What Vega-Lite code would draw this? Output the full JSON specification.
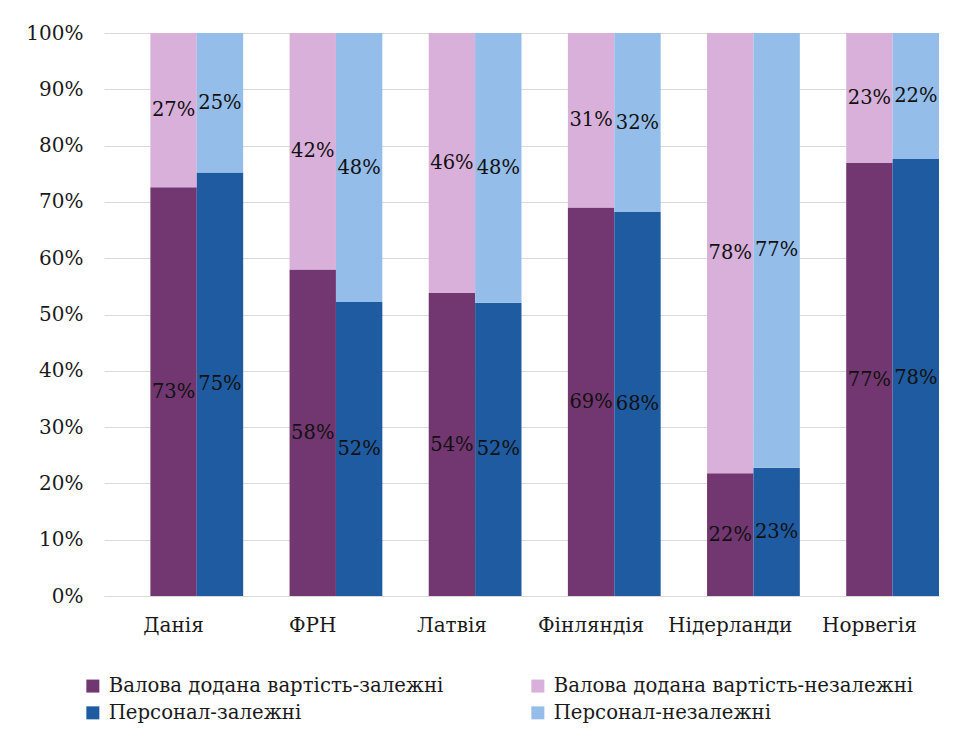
{
  "$schema": "https://vega.github.io/schema/vega-lite/v6.json",
  "autosize": "none",
  "width": 835,
  "height": 563,
  "padding": {"left": 104, "top": 33, "right": 32, "bottom": 147},
  "background": "white",
  "config": {
    "font": "DejaVu Serif",
    "view": {"stroke": null},
    "axis": {"labelFont": "DejaVu Serif", "labelFontSize": 20, "labelColor": "#1a1a1a", "title": null}
  },
  "data": {
    "values": [
      {"country": "Данія", "group": "ВДВ", "series": "Валова додана вартість-залежні", "value": 0.726},
      {"country": "Данія", "group": "ВДВ", "series": "Валова додана вартість-незалежні", "value": 0.274},
      {"country": "Данія", "group": "Персонал", "series": "Персонал-залежні", "value": 0.752},
      {"country": "Данія", "group": "Персонал", "series": "Персонал-незалежні", "value": 0.248},
      {"country": "ФРН", "group": "ВДВ", "series": "Валова додана вартість-залежні", "value": 0.58},
      {"country": "ФРН", "group": "ВДВ", "series": "Валова додана вартість-незалежні", "value": 0.42},
      {"country": "ФРН", "group": "Персонал", "series": "Персонал-залежні", "value": 0.522},
      {"country": "ФРН", "group": "Персонал", "series": "Персонал-незалежні", "value": 0.478},
      {"country": "Латвія", "group": "ВДВ", "series": "Валова додана вартість-залежні", "value": 0.538},
      {"country": "Латвія", "group": "ВДВ", "series": "Валова додана вартість-незалежні", "value": 0.462},
      {"country": "Латвія", "group": "Персонал", "series": "Персонал-залежні", "value": 0.521},
      {"country": "Латвія", "group": "Персонал", "series": "Персонал-незалежні", "value": 0.479},
      {"country": "Фінляндія", "group": "ВДВ", "series": "Валова додана вартість-залежні", "value": 0.69},
      {"country": "Фінляндія", "group": "ВДВ", "series": "Валова додана вартість-незалежні", "value": 0.31},
      {"country": "Фінляндія", "group": "Персонал", "series": "Персонал-залежні", "value": 0.682},
      {"country": "Фінляндія", "group": "Персонал", "series": "Персонал-незалежні", "value": 0.318},
      {"country": "Нідерланди", "group": "ВДВ", "series": "Валова додана вартість-залежні", "value": 0.218},
      {"country": "Нідерланди", "group": "ВДВ", "series": "Валова додана вартість-незалежні", "value": 0.782},
      {"country": "Нідерланди", "group": "Персонал", "series": "Персонал-залежні", "value": 0.228},
      {"country": "Нідерланди", "group": "Персонал", "series": "Персонал-незалежні", "value": 0.772},
      {"country": "Норвегія", "group": "ВДВ", "series": "Валова додана вартість-залежні", "value": 0.769},
      {"country": "Норвегія", "group": "ВДВ", "series": "Валова додана вартість-незалежні", "value": 0.231},
      {"country": "Норвегія", "group": "Персонал", "series": "Персонал-залежні", "value": 0.776},
      {"country": "Норвегія", "group": "Персонал", "series": "Персонал-незалежні", "value": 0.224}
    ]
  },
  "encoding": {
    "x": {
      "field": "country", "type": "nominal", "sort": null,
      "scale": {"paddingInner": 0, "paddingOuter": 0},
      "axis": {"labelAngle": 0, "ticks": false, "domain": true, "domainColor": "#d9d9d9", "labelPadding": 19, "labelColor": "#1a1a1a"}
    },
    "xOffset": {
      "field": "group", "type": "nominal",
      "scale": {"domain": ["_", "ВДВ", "Персонал"], "paddingInner": 0, "paddingOuter": 0}
    },
    "order": {"field": "series", "sort": "ascending"}
  },
  "layer": [
    {
      "mark": {"type": "bar"},
      "encoding": {
        "y": {
          "field": "value", "type": "quantitative", "stack": "zero",
          "scale": {"domain": [0, 1]},
          "axis": {"values": [0, 0.1, 0.2, 0.3, 0.4, 0.5, 0.6, 0.7, 0.8, 0.9, 1], "format": ".0%", "domain": false, "ticks": false, "gridColor": "#d9d9d9", "labelPadding": 21}
        },
        "color": {
          "field": "series", "type": "nominal",
          "scale": {
            "domain": ["Валова додана вартість-залежні", "Валова додана вартість-незалежні", "Персонал-залежні", "Персонал-незалежні"],
            "range": ["#723770", "#d9b0da", "#1f5ba0", "#95bde9"]
          },
          "legend": {
            "title": null, "orient": "none", "legendX": -21, "legendY": 643,
            "direction": "horizontal",
            "columns": 2, "columnPadding": 84, "rowPadding": 6,
            "symbolType": "square", "symbolSize": 169, "symbolStrokeWidth": 0, "symbolOpacity": 1,
            "labelFont": "DejaVu Serif", "labelFontSize": 19.7, "labelColor": "#1a1a1a", "labelOffset": 6, "labelLimit": 500, "padding": 0
          }
        }
      }
    },
    {
      "mark": {"type": "text", "font": "DejaVu Serif", "fontSize": 19.5, "color": "#111111", "baseline": "middle", "align": "center"},
      "encoding": {
        "y": {"field": "value", "type": "quantitative", "stack": "zero", "bandPosition": 0.5},
        "detail": {"field": "series", "type": "nominal"},
        "text": {"field": "value", "type": "quantitative", "format": ".0%"}
      }
    }
  ]
}
